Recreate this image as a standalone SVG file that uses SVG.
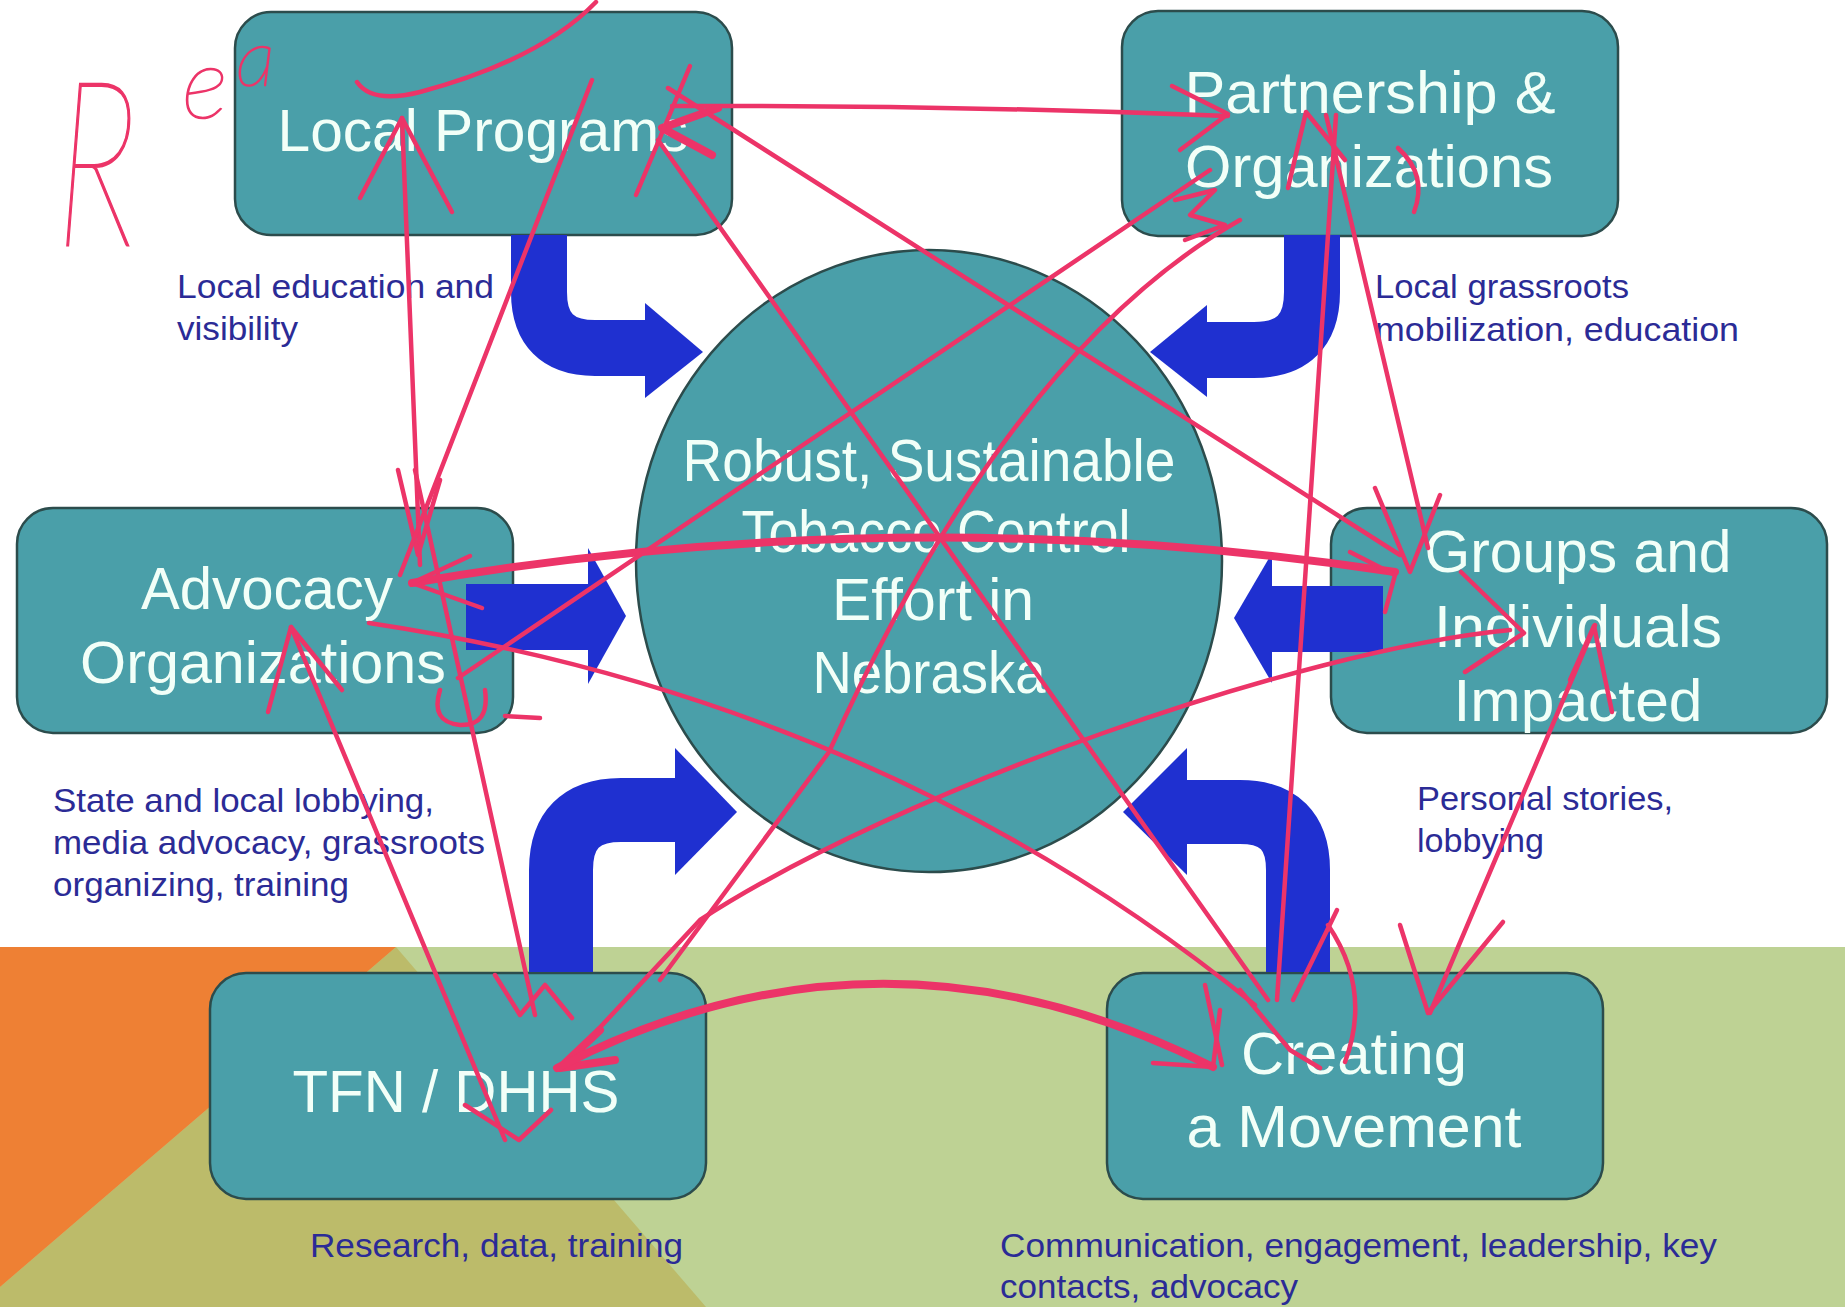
<svg xmlns="http://www.w3.org/2000/svg" width="1845" height="1307" viewBox="0 0 1845 1307">
<defs>
<style>
.box{fill:#4a9fa9;stroke:#2c4c4c;stroke-width:2.5}
.lbl{font-family:'Liberation Sans',Arial,sans-serif;fill:#f2fff8;text-anchor:middle;font-size:60px}
.cap{font-family:'Liberation Sans',Arial,sans-serif;fill:#2b2b96;font-size:34px}
.shaft{fill:none;stroke:#1f30d0}
.head{fill:#1f30d0}
.ink{fill:none;stroke:#ec3468;stroke-width:4.5;stroke-linecap:round;stroke-linejoin:round}
.ink2{fill:none;stroke:#ec3468;stroke-width:8;stroke-linecap:round;stroke-linejoin:round}
.hand{font-family:Lato,Inter,'DejaVu Sans',sans-serif;font-weight:200;font-style:italic;fill:#ec3468;stroke:#ec3468;stroke-width:1.5}
</style>
</defs>
<g id="background">
<rect x="0" y="0" width="1845" height="1307" fill="#ffffff"/>
<rect x="0" y="947" width="1845" height="360" fill="#bed294"/>
<polygon points="396,947 706,1307 0,1307 0,1287" fill="#bcbb6a"/>
<polygon points="0,947 396,947 0,1287" fill="#ee8034"/>
</g>
<g id="center">
<ellipse cx="929" cy="561" rx="293" ry="311" class="box"/>
<text class="lbl" x="929" y="481" font-size="58" textLength="493" lengthAdjust="spacingAndGlyphs">Robust, Sustainable</text>
<text class="lbl" x="936" y="552" font-size="58" textLength="389" lengthAdjust="spacingAndGlyphs">Tobacco Control</text>
<text class="lbl" x="933" y="620" font-size="58" textLength="202" lengthAdjust="spacingAndGlyphs">Effort in</text>
<text class="lbl" x="929" y="693" font-size="58" textLength="233" lengthAdjust="spacingAndGlyphs">Nebraska</text>
</g>
<g id="local-programs">
<rect x="235" y="12" width="497" height="223" rx="36" class="box"/>
<text class="lbl" x="483" y="151" textLength="411" lengthAdjust="spacingAndGlyphs">Local Programs</text>
<text class="cap" x="177" y="298" textLength="317" lengthAdjust="spacingAndGlyphs">Local education and</text>
<text class="cap" x="177" y="340" textLength="121" lengthAdjust="spacingAndGlyphs">visibility</text>
</g>
<g id="partnership">
<rect x="1122" y="11" width="496" height="225" rx="36" class="box"/>
<text class="lbl" x="1370" y="113" textLength="371" lengthAdjust="spacingAndGlyphs">Partnership &amp;</text>
<text class="lbl" x="1369" y="187" textLength="368" lengthAdjust="spacingAndGlyphs">Organizations</text>
<text class="cap" x="1375" y="298" textLength="254" lengthAdjust="spacingAndGlyphs">Local grassroots</text>
<text class="cap" x="1375" y="341" textLength="364" lengthAdjust="spacingAndGlyphs">mobilization, education</text>
</g>
<g id="advocacy">
<rect x="17" y="508" width="496" height="225" rx="36" class="box"/>
<text class="lbl" x="267" y="609" textLength="252" lengthAdjust="spacingAndGlyphs">Advocacy</text>
<text class="lbl" x="263" y="683" textLength="366" lengthAdjust="spacingAndGlyphs">Organizations</text>
<text class="cap" x="53" y="812" textLength="381" lengthAdjust="spacingAndGlyphs">State and local lobbying,</text>
<text class="cap" x="53" y="854" textLength="432" lengthAdjust="spacingAndGlyphs">media advocacy, grassroots</text>
<text class="cap" x="53" y="896" textLength="296" lengthAdjust="spacingAndGlyphs">organizing, training</text>
</g>
<g id="groups">
<rect x="1331" y="508" width="496" height="225" rx="36" class="box"/>
<text class="lbl" x="1578" y="572" textLength="307" lengthAdjust="spacingAndGlyphs">Groups and</text>
<text class="lbl" x="1578" y="647" textLength="288" lengthAdjust="spacingAndGlyphs">Individuals</text>
<text class="lbl" x="1578" y="721" textLength="249" lengthAdjust="spacingAndGlyphs">Impacted</text>
<text class="cap" x="1417" y="810" textLength="256" lengthAdjust="spacingAndGlyphs">Personal stories,</text>
<text class="cap" x="1417" y="852" textLength="127" lengthAdjust="spacingAndGlyphs">lobbying</text>
</g>
<g id="tfn-dhhs">
<rect x="210" y="973" width="496" height="226" rx="36" class="box"/>
<text class="lbl" x="456" y="1112" textLength="327" lengthAdjust="spacingAndGlyphs">TFN / DHHS</text>
<text class="cap" x="310" y="1257" textLength="373" lengthAdjust="spacingAndGlyphs">Research, data, training</text>
</g>
<g id="movement">
<rect x="1107" y="973" width="496" height="226" rx="36" class="box"/>
<text class="lbl" x="1354" y="1074" textLength="226" lengthAdjust="spacingAndGlyphs">Creating</text>
<text class="lbl" x="1354" y="1147" textLength="335" lengthAdjust="spacingAndGlyphs">a Movement</text>
<text class="cap" x="1000" y="1257" textLength="717" lengthAdjust="spacingAndGlyphs">Communication, engagement, leadership, key</text>
<text class="cap" x="1000" y="1298" textLength="298" lengthAdjust="spacingAndGlyphs">contacts, advocacy</text>
</g>
<g id="connectors">
<path class="shaft" stroke-width="56" d="M539,235 V292 Q539,348 595,348 H647"/>
<polygon class="head" points="645,303 703,352 645,398"/>
<path class="shaft" stroke-width="56" d="M1312,235 V292 Q1312,350 1254,350 H1205"/>
<polygon class="head" points="1207,305 1150,352 1207,397"/>
<rect class="head" x="466" y="584" width="124" height="66"/>
<polygon class="head" points="588,548 626,616 588,684"/>
<rect class="head" x="1270" y="586" width="113" height="66"/>
<polygon class="head" points="1272,553 1234,618 1272,683"/>
<path class="shaft" stroke-width="64" d="M561,972 V870 Q561,810 621,810 H677"/>
<polygon class="head" points="675,748 737,812 675,875"/>
<path class="shaft" stroke-width="64" d="M1298,972 V870 Q1298,812 1240,812 H1185"/>
<polygon class="head" points="1187,748 1123,812 1187,875"/>
</g>
<g id="annotations">
<text class="hand" transform="translate(56,245) scale(0.78,1.22)" font-size="190">R</text>
<text class="hand"><tspan x="182" y="118" font-size="100">e</tspan><tspan x="236" y="86" font-size="80">a</tspan></text>
<path class="ink" d="M357,82 Q372,104 420,92 Q540,60 596,2"/>
<path class="ink" d="M672,106 Q950,105 1228,116"/>
<path class="ink" d="M1172,86 L1228,114 L1180,150"/>
<path class="ink2" d="M718,108 L662,128 L712,155"/>
<path class="ink" d="M658,140 L1268,1000"/>
<path class="ink" d="M636,195 L690,66"/>
<path class="ink" d="M668,88 L1400,555"/>
<path class="ink" d="M402,118 L420,565"/>
<path class="ink" d="M360,198 L402,118 L452,212"/>
<path class="ink" d="M398,470 L418,555 L440,480"/>
<path class="ink" d="M592,80 L400,575"/>
<path class="ink" d="M415,470 L535,1015"/>
<path class="ink" d="M291,627 L505,1140"/>
<path class="ink" d="M268,712 L291,627 L342,690"/>
<path class="ink" d="M465,1105 L519,1140 L551,1110"/>
<path class="ink" d="M495,975 L520,1015 L545,985 L572,1018"/>
<path class="ink" d="M1210,170 L458,678"/>
<path class="ink" d="M1240,220 Q1010,350 829,752 L660,980"/>
<path class="ink2" d="M412,583 Q900,498 1395,572" stroke-width="6"/>
<path class="ink" d="M470,556 L412,583 L482,608"/>
<path class="ink" d="M1350,552 L1395,575 L1385,612"/>
<path class="ink" d="M369,623 Q880,700 1255,1005" stroke-width="6"/>
<path class="ink" d="M1510,630 C1300,650 900,790 700,920 L565,1065"/>
<path class="ink2" d="M600,1030 L560,1068 L615,1060"/>
<path class="ink" d="M1461,572 L1524,633 L1465,672"/>
<path class="ink2" d="M557,1068 Q880,900 1213,1067" stroke-width="7"/>
<path class="ink" d="M1153,1063 L1213,1067 L1220,1010"/>
<path class="ink" d="M1336,115 L1277,1000"/>
<path class="ink" d="M1326,115 L1428,548"/>
<path class="ink" d="M1375,488 L1410,572 L1440,495"/>
<path class="ink" d="M1288,188 L1306,112 L1345,160"/>
<path class="ink" d="M1398,148 Q1428,175 1414,212"/>
<path class="ink" d="M1175,200 L1215,190 L1190,215 L1225,225 L1185,240"/>
<path class="ink" d="M1595,625 L1430,1013"/>
<path class="ink" d="M1400,925 L1428,1013 L1503,922"/>
<path class="ink" d="M1570,680 L1594,626 L1612,712"/>
<path class="ink" d="M1337,910 L1293,1000"/>
<path class="ink" d="M1328,925 Q1372,990 1345,1062"/>
<path class="ink" d="M1205,985 L1222,1065 M1240,990 L1290,1050 L1320,1068"/>
<path class="ink" d="M440,690 Q430,722 460,725 Q490,726 485,690 M505,716 L540,718"/>
</g>
</svg>
